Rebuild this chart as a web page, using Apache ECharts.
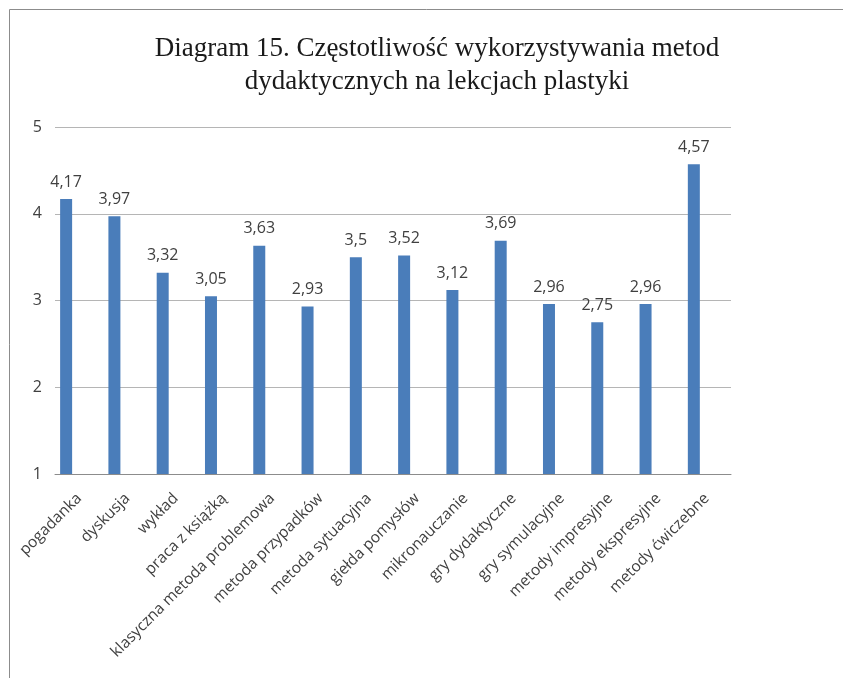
<!DOCTYPE html>
<html>
<head>
<meta charset="utf-8">
<script src="https://cdn.jsdelivr.net/npm/echarts@6/dist/echarts.min.js"></script>
<style>
  html, body { margin: 0; padding: 0; background: #fff; }
  #chart { width: 843px; height: 678px; }
</style>
</head>
<body>
<div id="chart"></div>
<script>
// metody dydaktyczne
const categories = [
  'pogadanka', 'dyskusja', 'wykład', 'praca z książką',
  'klasyczna metoda problemowa', 'metoda przypadków', 'metoda sytuacyjna',
  'giełda pomysłów', 'mikronauczanie', 'gry dydaktyczne', 'gry symulacyjne',
  'metody impresyjne', 'metody ekspresyjne', 'metody ćwiczebne'
];
const values = [4.17, 3.97, 3.32, 3.05, 3.63, 2.93, 3.5, 3.52, 3.12, 3.69, 2.96, 2.75, 2.96, 4.57];
const yTicks = [1, 2, 3, 4, 5];

const titleText = 'Diagram 15. Częstotliwość wykorzystywania metod\ndydaktycznych na lekcjach plastyki';

var chart = echarts.init(document.getElementById('chart'));

var option = {
  animation: false,
  backgroundColor: '#fff',
  title: {
    text: titleText,
    left: 432,
    top: 27,
    textAlign: 'center',
    textStyle: {
      fontFamily: 'Liberation Serif',
      fontSize: 27,
      fontWeight: 'normal',
      color: '#1a1a1a',
      lineHeight: 33
    }
  },
  graphic: [{
    type: 'rect',
    shape: { x: 9.5, y: 9.5, width: 1000, height: 1000 },
    style: { fill: 'none', stroke: '#8c8c8c', lineWidth: 1 },
    silent: true
  }],
  grid: { left: 55, right: 112, top: 127, bottom: 204 },
  xAxis: {
    type: 'category',
    data: categories,
    axisLine: { lineStyle: { color: '#8c8c8c', width: 1 } },
    axisTick: { show: false },
    axisLabel: {
      interval: 0,
      rotate: 45,
      margin: 22,
      fontFamily: 'Open Sans',
      fontSize: 15.5,
      color: '#404040'
    }
  },
  yAxis: {
    type: 'value',
    min: yTicks[0],
    max: yTicks[yTicks.length - 1],
    interval: 1,
    axisLine: { show: false },
    axisTick: { show: false },
    splitLine: { lineStyle: { color: '#b5b5b5', width: 1 } },
    axisLabel: {
      margin: 13,
      fontFamily: 'Open Sans',
      fontSize: 16,
      color: '#404040'
    }
  },
  series: [{
    type: 'bar',
    data: values,
    barWidth: 12,
    barGap: '117%',
    itemStyle: { color: '#4a7dba' },
    label: {
      show: true,
      position: 'top',
      distance: 9,
      fontFamily: 'Open Sans',
      fontSize: 16,
      color: '#404040',
      formatter: function (p) { return String(p.value).replace('.', ','); }
    }
  }, {
    // pusta seria - przesuwa słupki w lewo jak w oryginale
    type: 'bar',
    data: [],
    barWidth: 12
  }]
};

chart.setOption(option);
</script>
</body>
</html>
